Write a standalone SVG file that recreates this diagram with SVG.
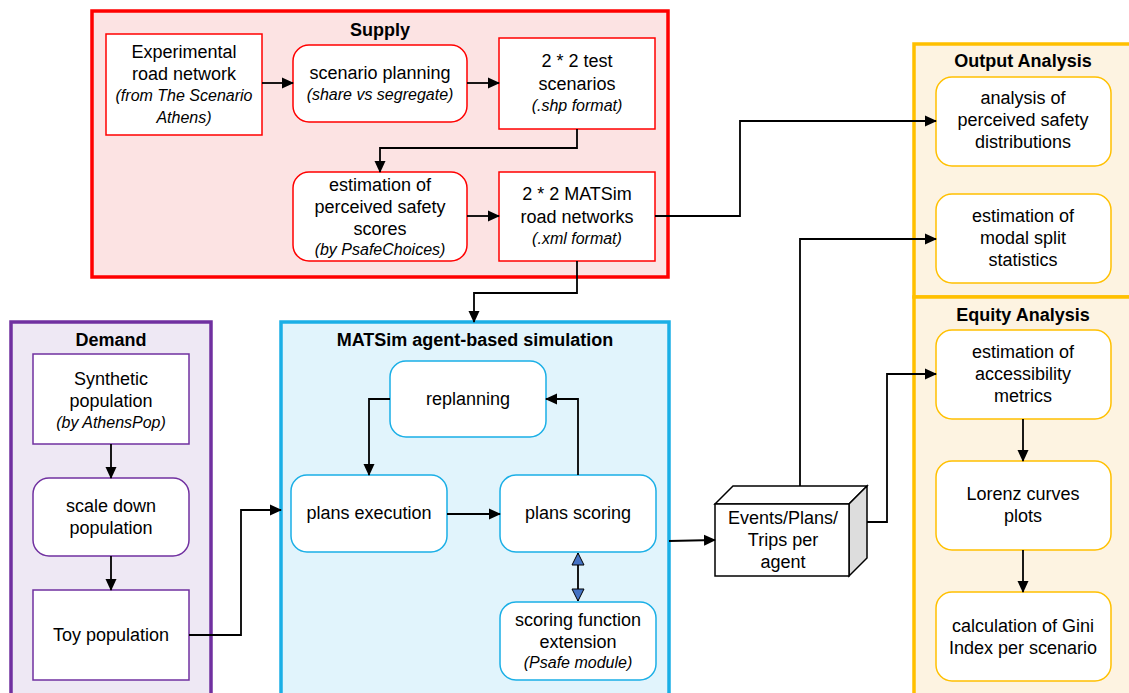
<svg xmlns="http://www.w3.org/2000/svg" width="1129" height="693" viewBox="0 0 1129 693">
<defs>
<marker id="ah" markerWidth="12" markerHeight="12" refX="11" refY="6" orient="auto" markerUnits="userSpaceOnUse"><path d="M0,0.5 L12,6 L0,11.5 Z" fill="#000"/></marker>
<marker id="bh" markerWidth="14" markerHeight="14" refX="13" refY="7" orient="auto" markerUnits="userSpaceOnUse"><path d="M1,1 L13,7 L1,13 Z" fill="#4472C4" stroke="#000" stroke-width="1"/></marker>
<marker id="bt" markerWidth="14" markerHeight="14" refX="1" refY="7" orient="auto" markerUnits="userSpaceOnUse"><path d="M13,1 L1,7 L13,13 Z" fill="#4472C4" stroke="#000" stroke-width="1"/></marker>
</defs>
<style>
text{font-family:"Liberation Sans",Arial,sans-serif;font-size:18px;fill:#000;text-anchor:middle}
.it{font-style:italic;font-size:16px}
.tt{font-weight:bold}
.red{fill:#fff;stroke:#FF0000;stroke-width:1.5}
.pur{fill:#fff;stroke:#7030A0;stroke-width:1.5}
.blu{fill:#fff;stroke:#1AAFE6;stroke-width:1.5}
.org{fill:#fff;stroke:#FFC000;stroke-width:1.5}
.c{fill:none;stroke:#000;stroke-width:1.8}
</style>
<rect width="1129" height="693" fill="#fff"/>
<g id="supply">
<rect x="92" y="11" width="576" height="266" fill="#FCE3E3" stroke="#FF0000" stroke-width="3.5"/>
<text class="tt" x="380" y="36">Supply</text>
</g>
<g id="demand">
<rect x="11" y="322" width="200" height="380" fill="#EEE8F4" stroke="#7030A0" stroke-width="3.5"/>
<text class="tt" x="111" y="346">Demand</text>
</g>
<g id="sim">
<rect x="281" y="322" width="388" height="380" fill="#E1F4FC" stroke="#1AAFE6" stroke-width="3.5"/>
<text class="tt" x="475" y="346">MATSim agent-based simulation</text>
</g>
<g id="output">
<rect x="914" y="44" width="230" height="253" fill="#FDF3E1" stroke="#FFC000" stroke-width="3.5"/>
<text class="tt" x="1023" y="67">Output Analysis</text>
</g>
<g id="equity">
<rect x="914" y="297" width="230" height="410" fill="#FDF3E1" stroke="#FFC000" stroke-width="3.5"/>
<text class="tt" x="1023" y="321">Equity Analysis</text>
</g>
<g id="n_exp"><rect class="red" x="106" y="34" width="156" height="101"/>
<text x="184" y="58">Experimental</text><text x="184" y="80">road network</text><text class="it" x="184" y="101">(from The Scenario</text><text class="it" x="184" y="123">Athens)</text></g>
<g id="n_plan"><rect class="red" x="293" y="45" width="174" height="77" rx="16"/>
<text x="380" y="79">scenario planning</text><text class="it" x="380" y="100">(share vs segregate)</text></g>
<g id="n_test"><rect class="red" x="499" y="38" width="156" height="91"/>
<text x="577" y="67">2 * 2 test</text><text x="577" y="90">scenarios</text><text class="it" x="577" y="111">(.shp format)</text></g>
<g id="n_est"><rect class="red" x="293" y="172" width="174" height="89" rx="16"/>
<text x="380" y="191">estimation of</text><text x="380" y="213">perceived safety</text><text x="380" y="235">scores</text><text class="it" x="380" y="255">(by PsafeChoices)</text></g>
<g id="n_net"><rect class="red" x="499" y="172" width="156" height="89"/>
<text x="577" y="200">2 * 2 MATSim</text><text x="577" y="223">road networks</text><text class="it" x="577" y="244">(.xml format)</text></g>
<g id="n_syn"><rect class="pur" x="33" y="354" width="156" height="90"/>
<text x="111" y="385">Synthetic</text><text x="111" y="407">population</text><text class="it" x="111" y="428">(by AthensPop)</text></g>
<g id="n_scale"><rect class="pur" x="33" y="478" width="156" height="78" rx="16"/>
<text x="111" y="512">scale down</text><text x="111" y="534">population</text></g>
<g id="n_toy"><rect class="pur" x="33" y="590" width="156" height="90"/>
<text x="111" y="641">Toy population</text></g>
<g id="n_repl"><rect class="blu" x="390" y="361" width="156" height="76" rx="16"/>
<text x="468" y="405">replanning</text></g>
<g id="n_exec"><rect class="blu" x="291" y="475" width="156" height="77" rx="16"/>
<text x="369" y="519">plans execution</text></g>
<g id="n_score"><rect class="blu" x="500" y="475" width="156" height="77" rx="16"/>
<text x="578" y="519">plans scoring</text></g>
<g id="n_ext"><rect class="blu" x="500" y="602" width="156" height="78" rx="16"/>
<text x="578" y="626">scoring function</text><text x="578" y="648">extension</text><text class="it" x="578" y="668">(Psafe module)</text></g>
<g id="n_events">
<path d="M715,504 L733,486 L867,486 L849,504 Z" fill="#fff" stroke="#000" stroke-width="1.5"/>
<path d="M849,504 L867,486 L867,558 L849,576 Z" fill="#DDDDDD" stroke="#000" stroke-width="1.5"/>
<rect x="715" y="504" width="134" height="72" fill="#fff" stroke="#000" stroke-width="1.5"/>
<text x="783" y="524">Events/Plans/</text><text x="783" y="546">Trips per</text><text x="783" y="568">agent</text></g>
<g id="n_anal"><rect class="org" x="936" y="77" width="175" height="89" rx="16"/>
<text x="1023" y="104">analysis of</text><text x="1023" y="126">perceived safety</text><text x="1023" y="148">distributions</text></g>
<g id="n_modal"><rect class="org" x="936" y="194" width="175" height="89" rx="16"/>
<text x="1023" y="222">estimation of</text><text x="1023" y="244">modal split</text><text x="1023" y="266">statistics</text></g>
<g id="n_acc"><rect class="org" x="936" y="330" width="175" height="89" rx="16"/>
<text x="1023" y="358">estimation of</text><text x="1023" y="380">accessibility</text><text x="1023" y="402">metrics</text></g>
<g id="n_lor"><rect class="org" x="936" y="461" width="175" height="89" rx="16"/>
<text x="1023" y="500">Lorenz curves</text><text x="1023" y="522">plots</text></g>
<g id="n_gini"><rect class="org" x="936" y="592" width="175" height="89" rx="16"/>
<text x="1023" y="632">calculation of Gini</text><text x="1023" y="654">Index per scenario</text></g>
<g id="connectors">
<path class="c" d="M262,83 L293,83" marker-end="url(#ah)"/>
<path class="c" d="M467,83 L499,83" marker-end="url(#ah)"/>
<path class="c" d="M577,129 L577,148 L380,148 L380,172" marker-end="url(#ah)"/>
<path class="c" d="M467,216 L499,216" marker-end="url(#ah)"/>
<path class="c" d="M577,261 L577,293 L474,293 L474,322" marker-end="url(#ah)"/>
<path class="c" d="M655,216 L740,216 L740,121 L936,121" marker-end="url(#ah)"/>
<path class="c" d="M111,444 L111,478" marker-end="url(#ah)"/>
<path class="c" d="M111,556 L111,590" marker-end="url(#ah)"/>
<path class="c" d="M189,635 L241,635 L241,510 L281,510" marker-end="url(#ah)"/>
<path class="c" d="M390,399 L369,399 L369,475" marker-end="url(#ah)"/>
<path class="c" d="M447,514 L500,514" marker-end="url(#ah)"/>
<path class="c" d="M578,475 L578,399 L546,399" marker-end="url(#ah)"/>
<path class="c" d="M578,553 L578,601" marker-start="url(#bt)" marker-end="url(#bh)"/>
<path class="c" d="M669,541 L715,540" marker-end="url(#ah)"/>
<path class="c" d="M800,486 L800,239 L936,239" marker-end="url(#ah)"/>
<path class="c" d="M867,522 L887,522 L887,374 L936,374" marker-end="url(#ah)"/>
<path class="c" d="M1023,419 L1023,461" marker-end="url(#ah)"/>
<path class="c" d="M1023,550 L1023,592" marker-end="url(#ah)"/>
</g>
</svg>
